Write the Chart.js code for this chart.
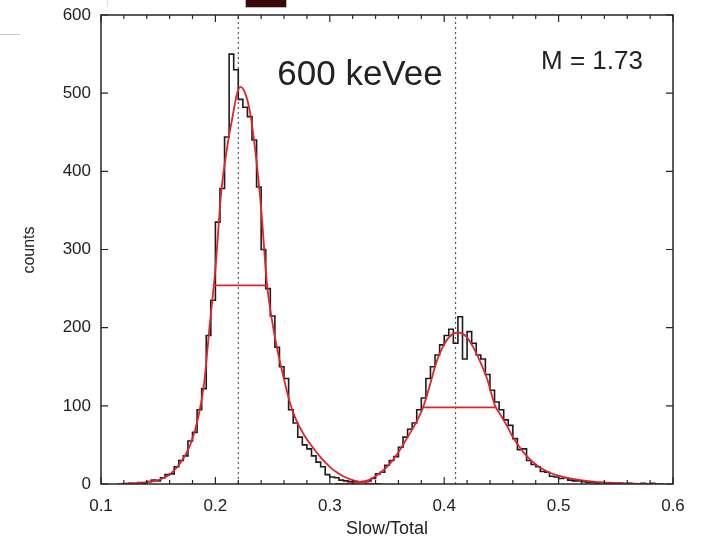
<!DOCTYPE html>
<html>
<head>
<meta charset="utf-8">
<script src="https://cdn.jsdelivr.net/npm/chart.js@4.4.1/dist/chart.umd.min.js"></script>
<style>
  html, body { margin: 0; padding: 0; background: #ffffff; }
  #wrap { position: relative; width: 701px; height: 540px; }
</style>
</head>
<body>
<div id="wrap"><canvas id="c" width="701" height="540"></canvas></div>
<script>
// ---------------- data ----------------
const binStart = 0.120;
const binWidth = 0.004;
const counts = [
  0, 1, 0, 2, 1, 3, 5, 4, 8, 12,
  13, 22, 30, 36, 55, 66, 95, 122, 190, 235,
  335, 378, 444, 550, 530, 492, 482, 470, 440, 380,
  300, 250, 215, 175, 150, 135, 95, 78, 60, 50,
  45, 36, 28, 22, 12, 9, 8, 5, 4, 3,
  3, 2, 3, 4, 7, 13, 15, 24, 30, 35,
  47, 60, 70, 78, 95, 110, 135, 150, 165, 178,
  190, 198, 180, 214, 160, 195, 180, 165, 160, 140,
  120, 105, 95, 82, 75, 58, 44, 45, 30, 25,
  22, 16, 15, 10, 9, 7, 8, 5, 4, 4,
  3, 2, 2, 1, 2, 1, 1, 0, 1, 0,
  1, 0, 0, 1, 0, 1, 0, 0
];

const fit1X = [0.115, 0.12, 0.13, 0.14, 0.15, 0.16, 0.17, 0.178, 0.185, 0.19, 0.195, 0.2, 0.205, 0.21, 0.215, 0.219, 0.222, 0.226, 0.23, 0.235, 0.24, 0.245, 0.25, 0.255, 0.26, 0.265, 0.27, 0.277, 0.285, 0.292, 0.3, 0.306, 0.313, 0.32, 0.328, 0.336, 0.345];
const fit1Y = [0, 0.5, 1, 2.5, 5, 12, 28, 50, 85, 127, 203, 275, 372, 428, 470, 500, 508, 500, 478, 425, 352, 257, 205, 166, 134, 105, 84, 64, 47, 34, 22, 15, 9, 5, 2, 0.5, 0];

const fit2X = [0.305, 0.315, 0.325, 0.334, 0.344, 0.352, 0.361, 0.368, 0.376, 0.3815, 0.3876, 0.393, 0.399, 0.405, 0.412, 0.419, 0.425, 0.431, 0.4374, 0.4445, 0.449, 0.455, 0.46, 0.466, 0.472, 0.48, 0.49, 0.504, 0.519, 0.535, 0.548, 0.565, 0.59];
const fit2Y = [0, 0.5, 2, 5, 14, 25, 43, 60, 80, 98, 127, 155, 176, 189, 194, 189, 176, 158, 135, 100, 89, 74, 60, 47, 36, 25, 16, 9, 5, 2.5, 1.5, 0.5, 0];

const fwhm1 = { x1: 0.1997, x2: 0.2451, y: 254 };
const fwhm2 = { x1: 0.3815, x2: 0.4445, y: 98 };
const peakMarkers = [0.22, 0.41];

const xRange = [0.1, 0.6];
const yRange = [0, 600];
const xTickValues = [0.1, 0.2, 0.3, 0.4, 0.5, 0.6];
const xTickLabels = ['0.1', '0.2', '0.3', '0.4', '0.5', '0.6'];
const xMinorTicks = [0.12, 0.14, 0.16, 0.18, 0.22, 0.24, 0.26, 0.28, 0.32, 0.34, 0.36, 0.38, 0.42, 0.44, 0.46, 0.48, 0.52, 0.54, 0.56, 0.58];
const yTickValues = [0, 100, 200, 300, 400, 500, 600];
const yTickLabels = ['0', '100', '200', '300', '400', '500', '600'];

const xTitle = 'Slow/Total';
const yTitle = 'counts';
const energyLabel = '600 keVee';
const mLabel = 'M = 1.73';

// ---------------- build datasets ----------------
const histPoints = counts.map((c, i) => ({ x: binStart + i * binWidth, y: c }));
histPoints.push({ x: binStart + counts.length * binWidth, y: 0 });

const fit1Points = fit1X.map((x, i) => ({ x: x, y: fit1Y[i] }));
const fit2Points = fit2X.map((x, i) => ({ x: x, y: fit2Y[i] }));

const RED = '#e0262c';
const FONT = '"Liberation Sans", Arial, Helvetica, sans-serif';

const datasets = [
  { label: 'hist', data: histPoints, stepped: true, borderColor: '#1c1c1c', borderWidth: 1.6, pointRadius: 0, fill: false, order: 3 },
  { label: 'fit1', data: fit1Points, borderColor: RED, borderWidth: 1.8, pointRadius: 0, cubicInterpolationMode: 'monotone', fill: false, order: 1 },
  { label: 'fit2', data: fit2Points, borderColor: RED, borderWidth: 1.8, pointRadius: 0, cubicInterpolationMode: 'monotone', fill: false, order: 1 },
  { label: 'fwhm1', data: [{ x: fwhm1.x1, y: fwhm1.y }, { x: fwhm1.x2, y: fwhm1.y }], borderColor: RED, borderWidth: 1.8, pointRadius: 0, order: 0 },
  { label: 'fwhm2', data: [{ x: fwhm2.x1, y: fwhm2.y }, { x: fwhm2.x2, y: fwhm2.y }], borderColor: RED, borderWidth: 1.8, pointRadius: 0, order: 0 }
];
peakMarkers.forEach((m, k) => {
  datasets.push({ label: 'marker' + k, data: [{ x: m, y: yRange[0] }, { x: m, y: yRange[1] }], borderColor: '#3a3a3a', borderWidth: 1, borderDash: [2, 3], pointRadius: 0, order: 4 });
});

// ---------------- plugin: frame, inward ticks, texts ----------------
const framePlugin = {
  id: 'frame',
  beforeDraw(chart) {
    const ctx = chart.ctx;
    ctx.save();
    // screenshot artefacts at the top edge
    ctx.fillStyle = '#3a0808';
    ctx.fillRect(246, 0, 40, 7);
    ctx.strokeStyle = '#bbbbbb';
    ctx.lineWidth = 1;
    ctx.strokeRect(245.5, -1, 41, 8.5);
    ctx.strokeStyle = '#c8c8c8';
    ctx.beginPath(); ctx.moveTo(0, 34.5); ctx.lineTo(20, 34.5); ctx.stroke();
    ctx.strokeStyle = '#e0e0e0';
    ctx.beginPath(); ctx.moveTo(107.5, 0); ctx.lineTo(107.5, 7); ctx.stroke();
    ctx.restore();
  },
  afterDraw(chart) {
    const ctx = chart.ctx;
    const a = chart.chartArea;
    const xs = chart.scales.x, ys = chart.scales.y;
    ctx.save();
    ctx.strokeStyle = '#262626';
    ctx.lineWidth = 1.5;
    ctx.strokeRect(a.left, a.top, a.right - a.left, a.bottom - a.top);
    ctx.lineWidth = 1.2;
    ctx.beginPath();
    xTickValues.forEach(v => {
      const px = xs.getPixelForValue(v);
      ctx.moveTo(px, a.bottom); ctx.lineTo(px, a.bottom - 7);
      ctx.moveTo(px, a.top); ctx.lineTo(px, a.top + 7);
    });
    xMinorTicks.forEach(v => {
      const px = xs.getPixelForValue(v);
      ctx.moveTo(px, a.bottom); ctx.lineTo(px, a.bottom - 4);
      ctx.moveTo(px, a.top); ctx.lineTo(px, a.top + 4);
    });
    yTickValues.forEach(v => {
      const py = ys.getPixelForValue(v);
      ctx.moveTo(a.left, py); ctx.lineTo(a.left + 7, py);
      ctx.moveTo(a.right, py); ctx.lineTo(a.right - 7, py);
    });
    ctx.stroke();

    ctx.fillStyle = '#222';
    ctx.textAlign = 'center';
    ctx.textBaseline = 'middle';
    ctx.font = '18px ' + FONT;
    ctx.fillText(xTitle, 387, 529);
    ctx.save();
    ctx.translate(30, 250);
    ctx.rotate(-Math.PI / 2);
    ctx.font = '16px ' + FONT;
    ctx.fillText(yTitle, 0, 0);
    ctx.restore();
    ctx.font = '35px ' + FONT;
    ctx.fillText(energyLabel, 360, 75);
    ctx.font = '26px ' + FONT;
    ctx.fillText(mLabel, 592, 62);
    ctx.restore();
  }
};

function zeroPad(s) { s.paddingTop = 0; s.paddingBottom = 0; s.paddingLeft = 0; s.paddingRight = 0; }

new Chart(document.getElementById('c'), {
  type: 'line',
  data: { datasets: datasets },
  options: {
    responsive: false,
    animation: false,
    events: [],
    layout: { padding: { left: 0, right: 28, top: 15, bottom: 0 } },
    plugins: { legend: { display: false }, tooltip: { enabled: false }, title: { display: false } },
    scales: {
      x: {
        type: 'linear',
        min: xRange[0], max: xRange[1],
        grid: { display: false, drawTicks: false },
        border: { display: false },
        afterBuildTicks: s => { s.ticks = xTickValues.map(v => ({ value: v })); },
        afterFit: s => { s.height = 56; zeroPad(s); },
        ticks: {
          padding: 12,
          color: '#222',
          font: { family: FONT, size: 17 },
          maxRotation: 0,
          autoSkip: false,
          callback: (v) => { const i = xTickValues.findIndex(t => Math.abs(t - v) < 1e-9); return i >= 0 ? xTickLabels[i] : ''; }
        }
      },
      y: {
        type: 'linear',
        min: yRange[0], max: yRange[1],
        grid: { display: false, drawTicks: false },
        border: { display: false },
        afterBuildTicks: s => { s.ticks = yTickValues.map(v => ({ value: v })); },
        afterFit: s => { s.width = 101; zeroPad(s); },
        ticks: {
          padding: 10,
          color: '#222',
          font: { family: FONT, size: 17 },
          autoSkip: false,
          callback: (v) => { const i = yTickValues.indexOf(v); return i >= 0 ? yTickLabels[i] : ''; }
        }
      }
    }
  },
  plugins: [framePlugin]
});
</script>
</body>
</html>
